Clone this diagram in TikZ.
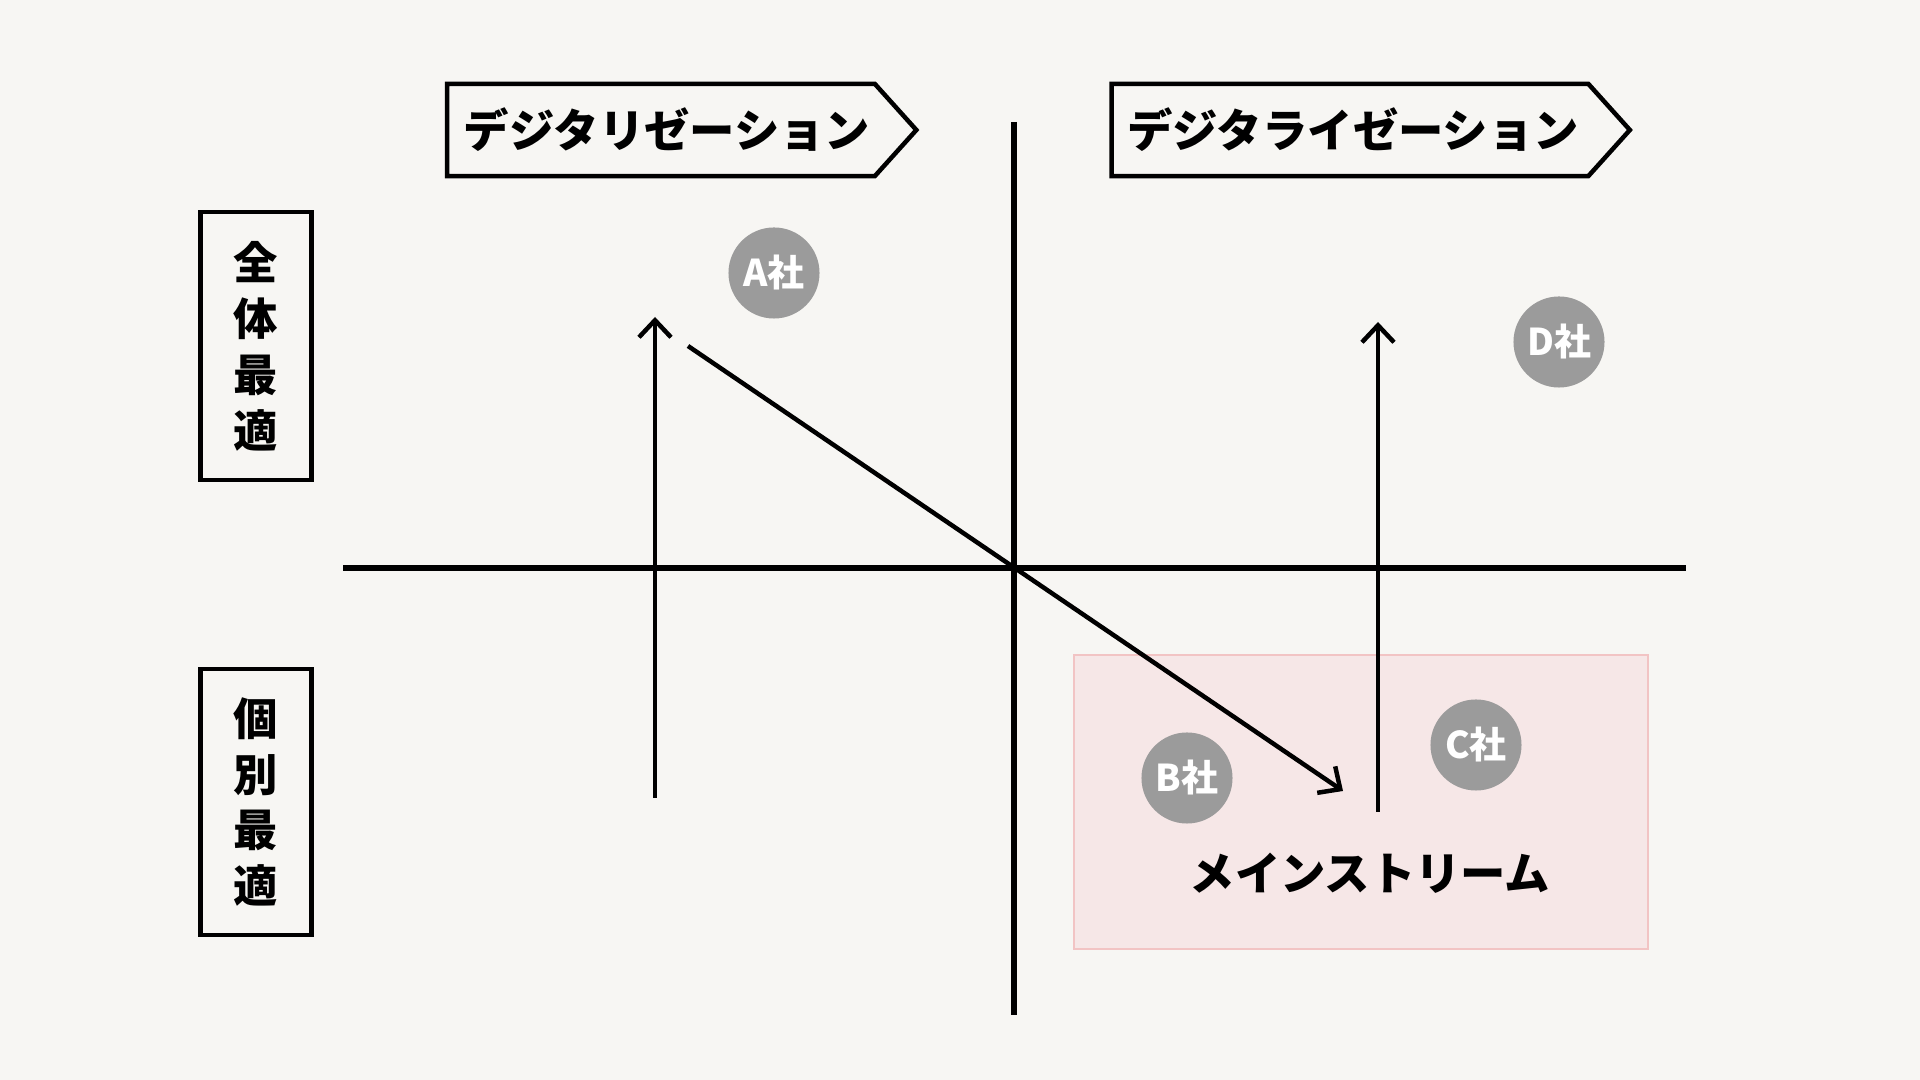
\documentclass[tikz,border=0pt]{standalone}
\usepackage{fontspec}
\setmainfont{Noto Sans CJK JP}
\usetikzlibrary{positioning,arrows.meta,shapes.symbols}
\definecolor{paperbg}{RGB}{247,246,243}
\definecolor{firmgray}{RGB}{155,155,155}
\definecolor{mainpink}{RGB}{246,231,231}
\definecolor{mainpinkline}{RGB}{242,196,196}

\begin{document}
\begin{tikzpicture}[x=0.01cm, y=-0.01cm, every node/.style={font=\bfseries}]
  \tikzset{
    phase/.style={signal, signal to=east, signal pointer angle=96, draw, line width=0.045cm,
      fill=paperbg, minimum height=0.92cm, inner sep=0pt, font=\fontsize{12.9}{14}\bfseries},
    scope box/.style={draw, line width=0.045cm, minimum width=1.11cm, align=center,
      font=\fontsize{12.6}{15.9}\bfseries},
    firm/.style={circle, fill=firmgray, text=white, minimum size=0.91cm, inner sep=0pt,
      font=\fontsize{10.5}{11}\bfseries},
    axis/.style={line width=0.055cm},
    move/.style={line width=0.045cm, -{Straight Barb[length=0.17cm, width=0.32cm, line width=0.045cm]}}
  }
  \fill[paperbg] (0,0) rectangle (1920,1080);
  \useasboundingbox (0,0) rectangle (1920,1080);

  % mainstream area
  \node[draw=mainpinkline, fill=mainpink, minimum width=5.74cm, minimum height=2.94cm,
    inner sep=0pt] (stream) at (1361,802) {};
  \node[font=\fontsize{12.9}{14}\bfseries] (streamlabel) at (1370,873) {メインストリーム};

  % axes
  \coordinate (xl) at (343,568);
  \coordinate (xr) at (1686,568);
  \coordinate (yt) at (1014,122);
  \coordinate (yb) at (1014,1015);
  \draw[axis] (xl) -- (xr);
  \draw[axis] (yt) -- (yb);

  % phase headings
  \node[phase, minimum width=4.69cm] (digitization) at (661,130)
    {\hspace{0.12cm}デジタリゼーション\hspace{-0.12cm}};
  \node[phase, minimum width=5.18cm] (digitalization) at (1350,130)
    {\hspace{0.06cm}デジタライゼーション\hspace{-0.06cm}};

  % scope labels
  \node[scope box, minimum height=2.68cm] (wholeopt) at (256,346) {全\\体\\最\\適};
  \node[scope box, minimum height=2.66cm] (localopt) at (256,802) {個\\別\\最\\適};

  % moves
  \coordinate (lfrom) at (655,798);
  \coordinate (lto) at (655,317);
  \coordinate (rfrom) at (1378,812);
  \coordinate (rto) at (1378,322);
  \coordinate (dfrom) at (688,346);
  \coordinate (dto) at (1343,791);
  \draw[move] (lfrom) -- (lto);
  \draw[move] (rfrom) -- (rto);
  \draw[move] (dfrom) -- (dto);

  % firms
  \node[firm] (firma) at (774,273) {A社};
  \node[firm] (firmd) at (1559,342) {D社};
  \node[firm] (firmb) at (1187,778) {B社};
  \node[firm] (firmc) at (1476,745) {C社};
\end{tikzpicture}
\end{document}
